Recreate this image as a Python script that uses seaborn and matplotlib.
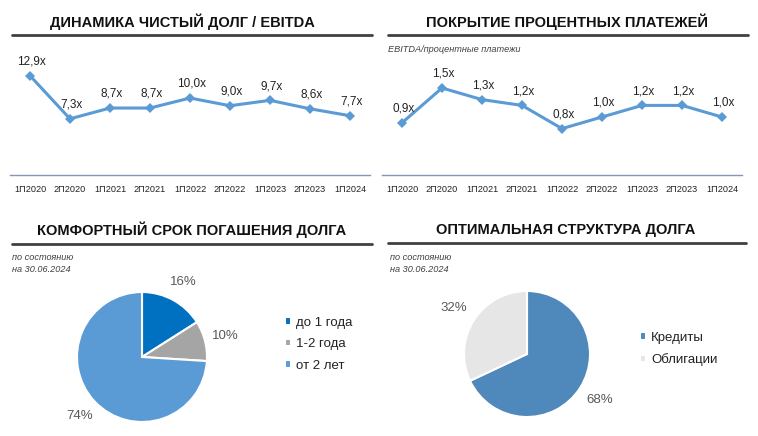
import matplotlib
matplotlib.use('Agg')
import matplotlib.pyplot as plt
import seaborn as sns
import pandas as pd
from matplotlib.lines import Line2D

periods = ['1П2020', '2П2020', '1П2021', '2П2021', '1П2022', '2П2022', '1П2023', '2П2023', '1П2024']
debt_ebitda = [12.9, 7.3, 8.7, 8.7, 10.0, 9.0, 9.7, 8.6, 7.7]
coverage = [0.9, 1.5, 1.3, 1.2, 0.8, 1.0, 1.2, 1.2, 1.0]

maturity_labels = ['до 1 года', '1-2 года', 'от 2 лет']
maturity_values = [16, 10, 74]
maturity_colors = ['#0070C0', '#A5A5A5', '#5B9BD5']

structure_labels = ['Кредиты', 'Облигации']
structure_values = [68, 32]
structure_colors = ['#4F88BB', '#E7E6E6']

W, H = 758, 436
sns.set_theme(style='white')
plt.rcParams['font.family'] = ['Liberation Sans', 'DejaVu Sans']

fig = plt.figure(figsize=(W / 100, H / 100), dpi=100)


def px_axes(x0, y0, x1, y1):
    # pixel box (top-left origin) -> figure axes
    return fig.add_axes([x0 / W, 1 - y1 / H, (x1 - x0) / W, (y1 - y0) / H])


def header(text, cx, ty, ly, x0, x1):
    fig.text(cx / W, 1 - ty / H, text, ha='center', va='center', fontsize=10.5,
             fontweight='bold', color='#111111')
    fig.add_artist(Line2D([x0 / W, x1 / W], [1 - ly / H, 1 - ly / H], color='#404040', lw=2.0))


def note(text, x, y):
    fig.text(x / W, 1 - y / H, text, ha='left', va='center', fontsize=6.6, style='italic',
             color='#404040')


def line_panel(ax, values, top):
    data = pd.DataFrame({'period': periods, 'value': values})
    sns.lineplot(data=data, x='period', y='value', ax=ax, color='#5B9BD5', lw=2.2,
                 marker='D', markersize=5, markeredgewidth=0, sort=False)
    for i, v in enumerate(values):
        ax.annotate(f'{v:.1f}x'.replace('.', ','), (i, v), xytext=(1, 6),
                    textcoords='offset points', ha='center', va='bottom', fontsize=8.5,
                    color='#222222')
    ax.set_xlim(-0.5, len(periods) - 0.5)
    ax.set_ylim(0, top)
    ax.set_xlabel('')
    ax.set_ylabel('')
    ax.set_yticks([])
    for s in ['top', 'left', 'right']:
        ax.spines[s].set_visible(False)
    ax.spines['bottom'].set_color('#8497B0')
    ax.spines['bottom'].set_linewidth(1.0)
    ax.tick_params(axis='x', length=0, labelsize=6.6, pad=7, colors='#222222')
    ax.set_facecolor('none')


def pie_panel(ax, values, colors, labels, pctdist, legend_xy):
    wedges, _, autotexts = ax.pie(values, colors=colors, startangle=90, counterclock=False,
                                  autopct='%1.0f%%', pctdistance=pctdist,
                                  wedgeprops=dict(edgecolor='white', linewidth=1.5),
                                  textprops=dict(fontsize=9.5, color='#595959'))
    ax.set_aspect('equal')
    ax.set_xlim(-1, 1)
    ax.set_ylim(-1, 1)
    fig.legend(wedges, labels, loc='upper left',
               bbox_to_anchor=(legend_xy[0] / W, 1 - legend_xy[1] / H), frameon=False,
               fontsize=9.5, handlelength=0.5, handleheight=0.5, handletextpad=0.35,
               labelspacing=0.72, labelcolor='#222222')


# top left
header('ДИНАМИКА ЧИСТЫЙ ДОЛГ / EBITDA', 182, 22, 35, 12, 372)
ax1 = px_axes(10, 48, 370, 175)
line_panel(ax1, debt_ebitda, 16.5)

# top right
header('ПОКРЫТИЕ ПРОЦЕНТНЫХ ПЛАТЕЖЕЙ', 567, 22, 35, 388, 748)
note('EBITDA/процентные платежи', 388, 49)
ax2 = px_axes(382, 48, 742, 175)
line_panel(ax2, coverage, 2.19)

# bottom left
header('КОМФОРТНЫЙ СРОК ПОГАШЕНИЯ ДОЛГА', 192, 230, 244, 12, 372)
note('по состоянию', 12, 258)
note('на 30.06.2024', 12, 270)
ax3 = px_axes(77, 292, 207, 422)
pie_panel(ax3, maturity_values, maturity_colors, maturity_labels, 1.32, (273, 305))

# bottom right
header('ОПТИМАЛЬНАЯ СТРУКТУРА ДОЛГА', 566, 230, 243, 388, 746)
note('по состоянию', 390, 258)
note('на 30.06.2024', 390, 270)
ax4 = px_axes(464, 291, 590, 417)
pie_panel(ax4, structure_values, structure_colors, structure_labels, 1.37, (628, 320))

fig.savefig('out.png', dpi=100, facecolor='white')
